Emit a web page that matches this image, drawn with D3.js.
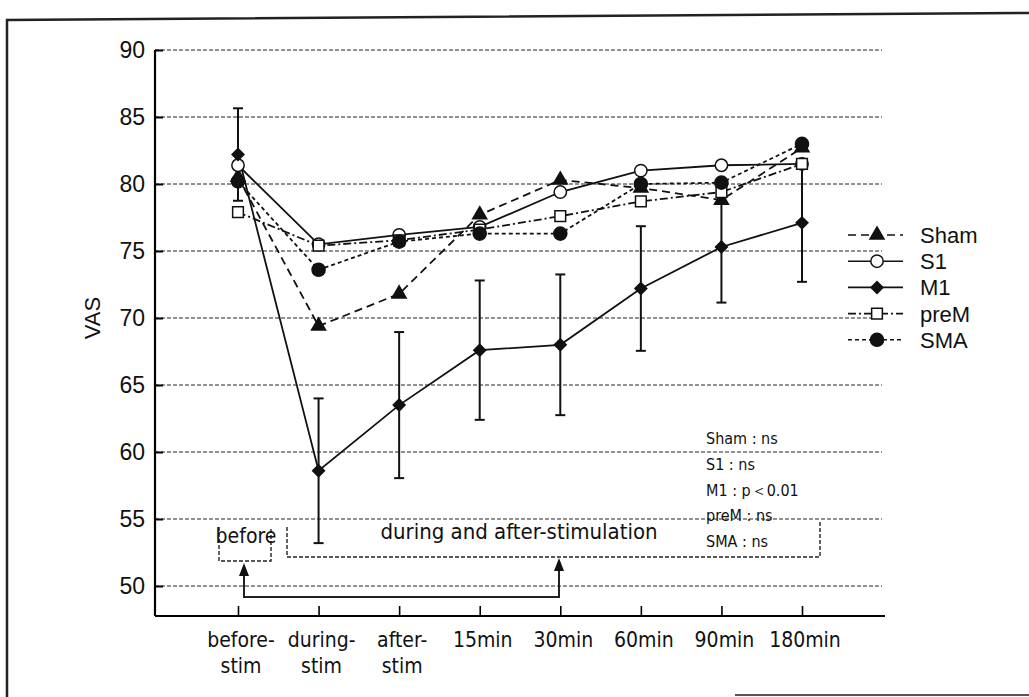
<!DOCTYPE html>
<html>
<head>
<meta charset="utf-8">
<script src="https://cdn.jsdelivr.net/npm/d3@7"></script>
<style>
  body { margin: 0; background: #fff; }
  text { fill: #111; }
  .narrow { font-family: "DejaVu Sans Condensed", "DejaVu Sans", sans-serif; font-stretch: condensed; }
  .plain { font-family: "Liberation Sans", Arial, sans-serif; }
</style>
</head>
<body>
<div id="chart"></div>
<script>
// categories and tick labels
var categories = ["before-stim", "during-stim", "after-stim", "15min", "30min", "60min", "90min", "180min"];
var tickLines = [["before-", "stim"], ["during-", "stim"], ["after-", "stim"], ["15min"], ["30min"], ["60min"], ["90min"], ["180min"]];
var yTicks = [50, 55, 60, 65, 70, 75, 80, 85, 90];

// series values (VAS)
var sham = [80.5, 69.4, 71.8, 77.7, 80.3, 79.7, 78.8, 82.7];
var s1   = [81.4, 75.5, 76.2, 76.8, 79.4, 81.0, 81.4, 81.5];
var m1   = [82.2, 58.6, 63.5, 67.6, 68.0, 72.2, 75.3, 77.1];
var preM = [77.9, 75.4, 75.8, 76.6, 77.6, 78.7, 79.4, 81.5];
var sma  = [80.2, 73.6, 75.7, 76.3, 76.3, 80.0, 80.1, 83.0];
var m1Err = [3.45, 5.4, 5.45, 5.2, 5.25, 4.65, 4.15, 4.4];

var statLines = ["Sham : ns", "S1 : ns", "M1 : p\uFF1C0.01", "preM : ns", "SMA : ns"];

var series = [
  {name: "Sham", values: sham, dash: "8,5", symbol: d3.symbolTriangle, size: 85, rot: 0, fill: "#111"},
  {name: "S1", values: s1, dash: null, symbol: d3.symbolCircle, size: 120, rot: 0, fill: "#fff"},
  {name: "M1", values: m1, dash: null, symbol: d3.symbolSquare, size: 70, rot: 45, fill: "#111"},
  {name: "preM", values: preM, dash: "8,3,2,3", symbol: d3.symbolSquare, size: 115, rot: 0, fill: "#fff"},
  {name: "SMA", values: sma, dash: "4,3", symbol: d3.symbolCircle, size: 135, rot: 0, fill: "#111"}
];

// svg container
var svgWidth = 1029, svgHeight = 697;
var margin = {top: 50, left: 155};
var chartWidth = 730, chartHeight = 566;

var svg = d3.select("#chart").append("svg").attr("width", svgWidth).attr("height", svgHeight);

// outer frame (scanned figure border)
svg.append("path")
  .attr("d", "M7,697 L7,20 L1029,13")
  .attr("fill", "none").attr("stroke", "#222").attr("stroke-width", 2.5);
svg.append("line")
  .attr("x1", 735).attr("x2", 1029).attr("y1", 695).attr("y2", 695)
  .attr("stroke", "#555").attr("stroke-width", 2);

var g = svg.append("g").attr("transform", `translate(${margin.left}, ${margin.top})`);

var xScale = d3.scalePoint().domain(categories).range([83, 647]);
var yScale = d3.scaleLinear().domain([50, 90]).range([536, 0]);

// gridlines
g.selectAll(".grid").data(yTicks).enter().append("line")
  .attr("x1", 0).attr("x2", 727)
  .attr("y1", d => yScale(d)).attr("y2", d => yScale(d))
  .attr("stroke", "#222").attr("stroke-width", 1).attr("stroke-dasharray", "4,2");

// y axis
var yAxis = d3.axisLeft(yScale).tickValues(yTicks).tickSize(-8).tickPadding(10);
var yG = g.append("g").call(yAxis);
yG.select(".domain").attr("d", `M0,0V${chartHeight}`).attr("stroke-width", 2.2);
yG.selectAll(".tick line").attr("stroke-width", 2);
yG.selectAll(".tick text").attr("class", "plain").attr("font-size", "23px").attr("fill", "#111");

// x axis
var xAxis = d3.axisBottom(xScale).tickSize(-10).tickFormat("");
var xG = g.append("g").attr("transform", `translate(0, ${chartHeight})`).call(xAxis);
xG.select(".domain").attr("d", `M0,0H${chartWidth}`).attr("stroke-width", 2.2);
xG.selectAll(".tick line").attr("stroke-width", 1.6);

categories.forEach(function(c, i) {
  var t = g.append("text").attr("class", "narrow").attr("font-size", "21px")
    .attr("text-anchor", "middle")
    .attr("transform", `translate(${xScale(c) + 3}, ${chartHeight + 31})`);
  tickLines[i].forEach(function(s, j) {
    t.append("tspan").attr("x", 0).attr("dy", j === 0 ? 0 : 26).text(s);
  });
});

// y axis label
g.append("text").attr("class", "plain")
  .attr("transform", `translate(${100 - margin.left}, ${yScale(70)}) rotate(-90)`)
  .attr("text-anchor", "middle").attr("font-size", "22px")
  .text("VAS");

// lines
var line = d3.line().x((d, i) => xScale(categories[i])).y(d => yScale(d));
series.forEach(function(s) {
  g.append("path").datum(s.values)
    .attr("d", line)
    .attr("fill", "none").attr("stroke", "#111").attr("stroke-width", 1.8)
    .attr("stroke-dasharray", s.dash);
});

// M1 error bars
var errG = g.append("g").attr("stroke", "#111").attr("stroke-width", 2);
m1.forEach(function(v, i) {
  var cx = xScale(categories[i]);
  var lo = yScale(v - m1Err[i]), hi = yScale(v + m1Err[i]);
  errG.append("line").attr("x1", cx).attr("x2", cx).attr("y1", lo).attr("y2", hi);
  errG.append("line").attr("x1", cx - 5).attr("x2", cx + 5).attr("y1", lo).attr("y2", lo);
  errG.append("line").attr("x1", cx - 5).attr("x2", cx + 5).attr("y1", hi).attr("y2", hi);
});

// markers
series.forEach(function(s) {
  g.selectAll(null).data(s.values).enter().append("path")
    .attr("d", d3.symbol().type(s.symbol).size(s.size))
    .attr("transform", (d, i) => `translate(${xScale(categories[i])}, ${yScale(d)}) rotate(${s.rot})`)
    .attr("fill", s.fill).attr("stroke", "#111").attr("stroke-width", 1.5);
});

// legend
var legend = svg.append("g");
series.forEach(function(s, i) {
  var ly = 235 + i * 26.2;
  legend.append("line").attr("x1", 848).attr("x2", 903).attr("y1", ly).attr("y2", ly)
    .attr("stroke", "#111").attr("stroke-width", 1.6).attr("stroke-dasharray", s.dash);
  legend.append("path").attr("d", d3.symbol().type(s.symbol).size(s.size))
    .attr("transform", `translate(877, ${ly}) rotate(${s.rot})`)
    .attr("fill", s.fill).attr("stroke", "#111").attr("stroke-width", 1.5);
  legend.append("text").attr("class", "plain").attr("x", 920).attr("y", ly + 8)
    .attr("font-size", "22px").text(s.name);
});

// bracket boxes and arrows
var ann = svg.append("g").attr("fill", "none").attr("stroke", "#222").attr("stroke-width", 1.4);
ann.append("path").attr("d", "M219,527 V561 H271 V527").attr("stroke-dasharray", "4,2");
ann.append("path").attr("d", "M287,527 V557 H820 V521").attr("stroke-dasharray", "4,2");
ann.append("path").attr("d", "M244,574 V597 H559 V568").attr("stroke-width", 2);
[244, 559].forEach(function(ax) {
  var tip = ax === 244 ? 563 : 558;
  svg.append("path").attr("d", `M${ax},${tip} L${ax - 5},${tip + 13} L${ax + 5},${tip + 13} Z`).attr("fill", "#111");
});

svg.append("text").attr("class", "narrow").attr("x", 246).attr("y", 543)
  .attr("text-anchor", "middle").attr("font-size", "21px").text("before");
svg.append("text").attr("class", "narrow").attr("x", 519).attr("y", 539)
  .attr("text-anchor", "middle").attr("font-size", "22px").text("during and after-stimulation");

// statistics note
statLines.forEach(function(s, i) {
  svg.append("text").attr("class", "narrow").attr("x", 706).attr("y", 444 + i * 25.8)
    .attr("font-size", "16px").text(s);
});
</script>
</body>
</html>
